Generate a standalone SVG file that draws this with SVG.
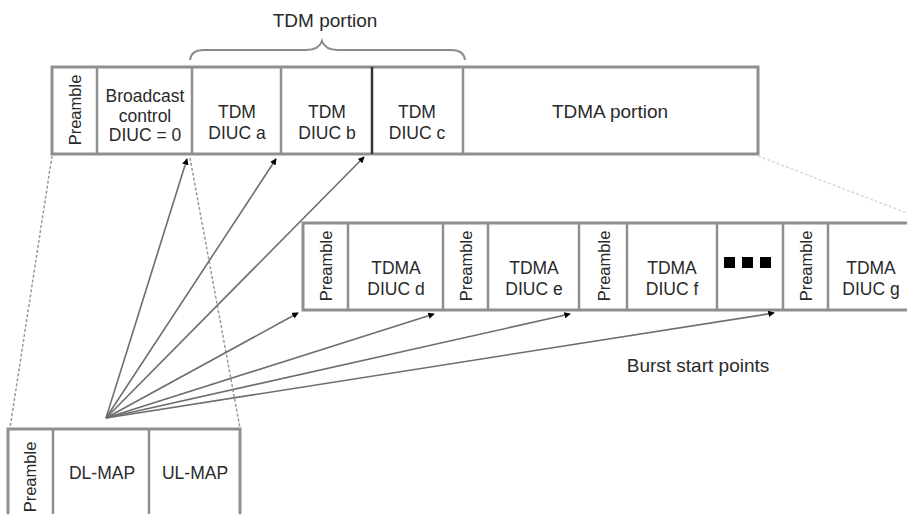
<svg xmlns="http://www.w3.org/2000/svg" width="907" height="514" viewBox="0 0 907 514">
<defs>
<style>
.frame{fill:#fff;stroke:#8f8f8f;stroke-width:3}
.div{stroke:#8f8f8f;stroke-width:2.5;fill:none}
.t{font-family:"Liberation Sans",Arial,sans-serif;font-size:17.5px;fill:#2a2a2a;text-anchor:middle}
.lbl{font-family:"Liberation Sans",Arial,sans-serif;font-size:19px;fill:#2a2a2a;text-anchor:middle}
.pre{font-family:"Liberation Sans",Arial,sans-serif;font-size:16.5px;fill:#2a2a2a;text-anchor:middle}
.arr{stroke:#6e6e6e;stroke-width:1.6;fill:none;marker-end:url(#ah)}
.dash{stroke:#9a9a9a;stroke-width:1.5;stroke-dasharray:3 2;fill:none}
</style>
<marker id="ah" viewBox="0 0 8 8" refX="7" refY="4" markerWidth="6.5" markerHeight="6.5" markerUnits="userSpaceOnUse" orient="auto">
<path d="M0,0 L8,4 L0,8 z" fill="#000"/>
</marker>
</defs>

<g id="tdm-brace">
<path d="M190,60 Q191,50 204,50 L306,50 Q319,50 322,41 Q325,50 338,50 L451,50 Q464,50 465,60" fill="none" stroke="#8a8a8a" stroke-width="2"/>
<text class="lbl" x="325" y="27">TDM portion</text>
</g>

<g id="top-frame">
<rect class="frame" x="52" y="67" width="706" height="87"/>
<line class="div" x1="97" y1="67" x2="97" y2="154"/>
<line class="div" x1="192" y1="67" x2="192" y2="154"/>
<line class="div" x1="281" y1="67" x2="281" y2="154"/>
<line x1="372" y1="67" x2="372" y2="154" stroke="#333" stroke-width="2.5"/>
<line class="div" x1="463" y1="67" x2="463" y2="154"/>
</g>
<g id="top-preamble"><text class="pre" transform="translate(81,110) rotate(-90)">Preamble</text></g>
<g id="broadcast"><text class="t" x="145" y="102">Broadcast</text><text class="t" x="145" y="122">control</text><text class="t" x="145" y="141">DIUC = 0</text></g>
<g id="tdm-a"><text class="t" x="237" y="118">TDM</text><text class="t" x="237" y="139">DIUC a</text></g>
<g id="tdm-b"><text class="t" x="327" y="118">TDM</text><text class="t" x="327" y="139">DIUC b</text></g>
<g id="tdm-c"><text class="t" x="417" y="118">TDM</text><text class="t" x="417" y="139">DIUC c</text></g>
<g id="tdma-portion"><text class="lbl" x="610" y="118">TDMA portion</text></g>

<g id="second-row">
<rect class="frame" x="303" y="223" width="620" height="87"/>
<line class="div" x1="348" y1="223" x2="348" y2="310"/>
<line class="div" x1="443" y1="223" x2="443" y2="310"/>
<line class="div" x1="488" y1="223" x2="488" y2="310"/>
<line class="div" x1="579" y1="223" x2="579" y2="310"/>
<line class="div" x1="627" y1="223" x2="627" y2="310"/>
<line class="div" x1="717" y1="223" x2="717" y2="310"/>
<line class="div" x1="783" y1="223" x2="783" y2="310"/>
<line class="div" x1="828" y1="223" x2="828" y2="310"/>
</g>
<g id="pre-d"><text class="pre" transform="translate(332,266) rotate(-90)">Preamble</text></g>
<g id="tdma-d"><text class="t" x="396" y="274">TDMA</text><text class="t" x="396" y="295">DIUC d</text></g>
<g id="pre-e"><text class="pre" transform="translate(472,266) rotate(-90)">Preamble</text></g>
<g id="tdma-e"><text class="t" x="534" y="274">TDMA</text><text class="t" x="534" y="295">DIUC e</text></g>
<g id="pre-f"><text class="pre" transform="translate(610,266) rotate(-90)">Preamble</text></g>
<g id="tdma-f"><text class="t" x="672" y="274">TDMA</text><text class="t" x="672" y="295">DIUC f</text></g>
<g id="ellipsis"><rect x="724" y="257" width="11" height="11" fill="#000"/><rect x="742" y="257" width="11" height="11" fill="#000"/><rect x="760" y="257" width="11" height="11" fill="#000"/></g>
<g id="pre-g"><text class="pre" transform="translate(812,266) rotate(-90)">Preamble</text></g>
<g id="tdma-g"><text class="t" x="871" y="274">TDMA</text><text class="t" x="871" y="295">DIUC g</text></g>

<g id="map-frame">
<rect class="frame" x="8" y="429" width="232" height="100"/>
<line class="div" x1="53" y1="429" x2="53" y2="514"/>
<line class="div" x1="149" y1="429" x2="149" y2="514"/>
<text class="pre" transform="translate(36,477) rotate(-90)">Preamble</text>
<text class="t" x="102" y="479">DL-MAP</text>
<text class="t" x="195" y="479">UL-MAP</text>
</g>

<g id="burst-label"><text class="lbl" x="698" y="372">Burst start points</text></g>

<g id="connectors">
<line class="dash" x1="52" y1="156" x2="10" y2="428"/>
<line class="dash" x1="190" y1="158" x2="240" y2="428"/>
<line x1="758" y1="156" x2="907" y2="213" stroke="#d8d8d8" stroke-width="1.5" stroke-dasharray="3 2"/>
<line class="arr" x1="106" y1="418" x2="187" y2="159"/>
<line class="arr" x1="106" y1="418" x2="276" y2="159"/>
<line class="arr" x1="106" y1="418" x2="364" y2="157"/>
<line class="arr" x1="106" y1="418" x2="298" y2="313"/>
<line class="arr" x1="106" y1="418" x2="434" y2="314"/>
<line class="arr" x1="106" y1="418" x2="570" y2="314"/>
<line class="arr" x1="106" y1="418" x2="774" y2="313"/>
</g>
</svg>
